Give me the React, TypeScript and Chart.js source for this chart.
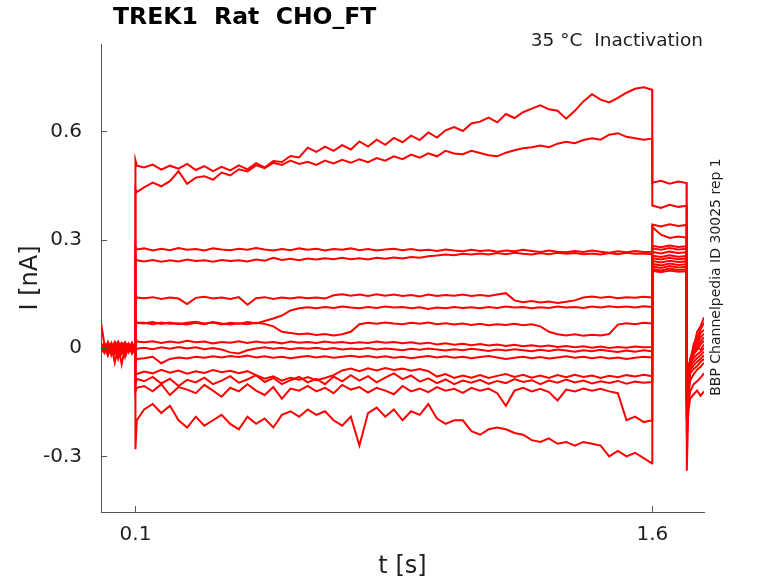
import { useEffect, useRef } from "react"
import { Chart, registerables } from "chart.js"

Chart.register(...registerables)

// sample times [s]: holding | step on | test pulse (3 rows) | end of pulse, tail, back to holding
const time = [
  0, 0.01, 0.02, 0.03, 0.04, 0.05, 0.06, 0.07, 0.08, 0.09, 0.0995,
  0.1, 0.104,
  0.125, 0.15, 0.175, 0.2, 0.225, 0.25, 0.275, 0.3, 0.325, 0.35, 0.375, 0.4, 0.425, 0.45, 0.475, 0.5, 0.525, 0.55, 0.575,
  0.6, 0.625, 0.65, 0.675, 0.7, 0.725, 0.75, 0.775, 0.8, 0.825, 0.85, 0.875, 0.9, 0.925, 0.95, 0.975, 1.0, 1.025, 1.05, 1.075,
  1.1, 1.125, 1.15, 1.175, 1.2, 1.225, 1.25, 1.275, 1.3, 1.325, 1.35, 1.375, 1.4, 1.425, 1.45, 1.475, 1.5, 1.525, 1.55, 1.575,
  1.5995, 1.6, 1.625, 1.65, 1.675, 1.6995, 1.7, 1.705, 1.71, 1.72, 1.73, 1.74, 1.75,
]

// current [nA], one array per sweep, same layout as time
const sweep1 = [
  0.01, -0.005, 0.015, 0.0, -0.01, 0.012, 0.004, -0.006, 0.01, 0.0, 0.008,
  0.52, 0.505,
  0.5, 0.508, 0.494, 0.505, 0.497, 0.51, 0.493, 0.504, 0.49, 0.502, 0.492, 0.506, 0.495, 0.512, 0.5, 0.518, 0.515, 0.532, 0.528,
  0.555, 0.543, 0.558, 0.546, 0.562, 0.55, 0.572, 0.558, 0.577, 0.563, 0.582, 0.57, 0.588, 0.576, 0.597, 0.583, 0.603, 0.612, 0.601, 0.622,
  0.627, 0.638, 0.625, 0.648, 0.637, 0.653, 0.663, 0.672, 0.661, 0.657, 0.635, 0.657, 0.683, 0.703, 0.688, 0.68, 0.693, 0.707, 0.718, 0.722,
  0.715, 0.458, 0.463, 0.455, 0.461, 0.457, -0.34, -0.15, -0.06, 0.0, 0.045, 0.06, 0.085,
]
const sweep2 = [
  -0.005, 0.012, -0.01, 0.006, 0.0, -0.015, 0.008, 0.002, -0.008, 0.01, -0.004,
  0.44, 0.432,
  0.445, 0.458, 0.448, 0.462, 0.49, 0.455, 0.472, 0.476, 0.466, 0.486, 0.478, 0.495, 0.489, 0.506, 0.498, 0.513, 0.507, 0.519, 0.51,
  0.516, 0.507, 0.519, 0.511, 0.521, 0.513, 0.523, 0.515, 0.526, 0.519, 0.531, 0.523, 0.536, 0.527, 0.539, 0.531, 0.546, 0.539, 0.537, 0.546,
  0.54, 0.534, 0.531, 0.541, 0.548, 0.553, 0.556, 0.561, 0.556, 0.566, 0.571, 0.567, 0.576, 0.581, 0.577, 0.591, 0.595, 0.585, 0.581, 0.577,
  0.58, 0.395, 0.388, 0.397, 0.391, 0.394, -0.2, -0.1, -0.05, 0.012, 0.028, 0.052, 0.07,
]
const sweep3 = [
  0.004, -0.012, 0.01, -0.004, 0.016, -0.002, -0.01, 0.006, -0.006, 0.012, 0.0,
  0.28, 0.273,
  0.276, 0.27, 0.275, 0.271, 0.277, 0.272, 0.274, 0.27, 0.276, 0.273, 0.271, 0.275, 0.272, 0.277, 0.273, 0.27, 0.274, 0.271, 0.276,
  0.272, 0.275, 0.27, 0.274, 0.272, 0.276, 0.271, 0.274, 0.27, 0.273, 0.275, 0.271, 0.274, 0.27, 0.272, 0.269, 0.273, 0.27, 0.268, 0.272,
  0.269, 0.271, 0.267, 0.27, 0.268, 0.272, 0.269, 0.266, 0.27, 0.267, 0.265, 0.269, 0.266, 0.27, 0.267, 0.264, 0.268, 0.265, 0.269, 0.266,
  0.267, 0.342, 0.337, 0.343, 0.338, 0.341, -0.16, -0.09, -0.045, -0.008, 0.018, 0.042, 0.05,
]
const sweep4 = [
  -0.01, 0.005, -0.018, 0.009, -0.003, 0.014, -0.008, 0.0, 0.011, -0.012, 0.004,
  0.25, 0.243,
  0.24, 0.244, 0.239, 0.243, 0.24, 0.245, 0.241, 0.243, 0.239, 0.244, 0.241, 0.243, 0.24, 0.245, 0.242, 0.25, 0.244, 0.247, 0.243,
  0.248, 0.245, 0.249, 0.246, 0.25, 0.246, 0.249, 0.245, 0.25, 0.247, 0.251, 0.248, 0.252, 0.25, 0.254, 0.256, 0.259, 0.257, 0.261, 0.259,
  0.262, 0.259, 0.263, 0.26, 0.264, 0.261, 0.259, 0.263, 0.26, 0.264, 0.261, 0.263, 0.26, 0.262, 0.259, 0.263, 0.26, 0.264, 0.261, 0.262,
  0.26, 0.335, 0.314, 0.305, 0.309, 0.306, -0.14, -0.08, -0.03, 0.004, 0.012, 0.03, 0.04,
]
const sweep5 = [
  0.008, -0.004, 0.002, -0.014, 0.006, 0.018, -0.006, 0.01, -0.002, 0.006, -0.01,
  0.15, 0.14,
  0.138, 0.141, 0.136, 0.14, 0.137, 0.122, 0.139, 0.142, 0.137, 0.14, 0.136, 0.141, 0.12, 0.138, 0.141, 0.136, 0.14, 0.137, 0.141,
  0.138, 0.14, 0.137, 0.146, 0.149, 0.145, 0.148, 0.144, 0.149, 0.145, 0.148, 0.144, 0.147, 0.143, 0.148, 0.144, 0.147, 0.145, 0.148, 0.144,
  0.147, 0.144, 0.148, 0.152, 0.132, 0.127, 0.13, 0.126, 0.129, 0.125, 0.128, 0.132, 0.14, 0.143, 0.139, 0.142, 0.138, 0.141, 0.139, 0.142,
  0.14, 0.283, 0.279, 0.284, 0.28, 0.282, -0.12, -0.07, -0.04, -0.018, 0.004, 0.018, 0.03,
]
const sweep6 = [
  0.07, 0.01, 0.0, 0.012, -0.016, 0.004, 0.014, -0.004, 0.006, -0.012, 0.002,
  0.08, 0.07,
  0.068, 0.072, 0.067, 0.071, 0.066, 0.07, 0.073, 0.068, 0.071, 0.065, 0.07, 0.067, 0.072, 0.068, 0.075, 0.082, 0.09, 0.104, 0.11,
  0.113, 0.11, 0.114, 0.111, 0.115, 0.112, 0.11, 0.114, 0.111, 0.115, 0.112, 0.114, 0.11, 0.113, 0.108, 0.112, 0.11, 0.114, 0.111, 0.113,
  0.11, 0.114, 0.111, 0.115, 0.112, 0.114, 0.11, 0.113, 0.111, 0.115, 0.112, 0.114, 0.111, 0.115, 0.112, 0.116, 0.113, 0.115, 0.112, 0.116,
  0.114, 0.276, 0.272, 0.277, 0.273, 0.275, -0.12, -0.06, -0.03, -0.015, -0.006, 0.01, 0.02,
]
const sweep7 = [
  0.012, -0.002, 0.008, -0.01, 0.002, -0.02, 0.006, 0.016, -0.008, 0.004, 0.01,
  0.065, 0.07,
  0.07, 0.066, 0.071, 0.067, 0.069, 0.065, 0.07, 0.066, 0.072, 0.068, 0.065, 0.069, 0.066, 0.07, 0.067, 0.06, 0.045, 0.042, 0.038,
  0.04, 0.036, 0.039, 0.035, 0.038, 0.045, 0.066, 0.07, 0.067, 0.071, 0.068, 0.066, 0.07, 0.067, 0.071, 0.066, 0.069, 0.065, 0.068, 0.064,
  0.067, 0.063, 0.066, 0.064, 0.067, 0.063, 0.066, 0.06, 0.045, 0.038, 0.035, 0.038, 0.034, 0.037, 0.035, 0.039, 0.065, 0.069, 0.066, 0.07,
  0.068, 0.266, 0.262, 0.267, 0.263, 0.265, -0.1, -0.05, -0.035, -0.01, 0.002, -0.004, 0.01,
]
const sweep8 = [
  -0.012, 0.006, -0.004, 0.014, -0.01, 0.0, -0.016, 0.008, 0.012, -0.006, 0.004,
  0.03, 0.018,
  0.016, 0.019, 0.014, 0.018, 0.015, 0.02, 0.016, 0.018, 0.013, 0.017, 0.015, 0.019, 0.014, 0.018, 0.015, 0.017, 0.013, 0.018, 0.015,
  0.017, 0.014, 0.018, 0.015, 0.017, 0.013, 0.016, 0.014, 0.018, 0.015, 0.017, 0.013, 0.016, 0.012, 0.015, 0.01, 0.013, 0.009, 0.012, 0.008,
  0.011, 0.007, 0.01, 0.006, 0.009, 0.005, 0.008, 0.004, 0.007, 0.003, 0.006, 0.002, 0.005, 0.001, 0.004, 0.0, 0.003, 0.001, 0.004, 0.002,
  0.003, 0.256, 0.252, 0.257, 0.253, 0.255, -0.1, -0.06, -0.04, -0.028, -0.018, -0.01, 0.0,
]
const sweep9 = [
  0.002, -0.014, 0.01, -0.006, 0.016, -0.004, 0.008, -0.012, 0.0, 0.014, -0.008,
  -0.01, -0.002,
  0.001, -0.003, 0.002, -0.002, 0.003, -0.001, 0.002, -0.003, 0.0, -0.004, -0.012, -0.015, -0.006, -0.001, 0.002, -0.002, 0.001, -0.003, 0.0,
  -0.002, 0.001, -0.003, 0.0, -0.004, -0.001, -0.003, 0.0, -0.004, -0.001, -0.003, -0.006, -0.002, -0.005, -0.001, -0.004, -0.007, -0.003, -0.006, -0.002,
  -0.005, -0.008, -0.004, -0.007, -0.003, -0.006, -0.009, -0.005, -0.008, -0.004, -0.007, -0.01, -0.006, -0.009, -0.005, -0.008, -0.011, -0.007, -0.01, -0.006,
  -0.009, 0.249, 0.245, 0.25, 0.246, 0.248, -0.12, -0.07, -0.05, -0.038, -0.028, -0.02, -0.01,
]
const sweep10 = [
  -0.006, 0.01, -0.02, 0.004, -0.01, 0.012, -0.002, -0.014, 0.006, -0.004, 0.008,
  -0.04, -0.03,
  -0.028, -0.024, -0.042, -0.03, -0.026, -0.029, -0.024, -0.027, -0.023, -0.026, -0.022, -0.025, -0.021, -0.026, -0.023, -0.027, -0.024, -0.028, -0.025,
  -0.022, -0.026, -0.023, -0.027, -0.024, -0.021, -0.025, -0.022, -0.026, -0.023, -0.027, -0.024, -0.028, -0.025, -0.022, -0.026, -0.023, -0.027, -0.024, -0.028,
  -0.025, -0.022, -0.026, -0.03, -0.027, -0.024, -0.028, -0.025, -0.029, -0.026, -0.023, -0.027, -0.024, -0.028, -0.025, -0.029, -0.026, -0.03, -0.027, -0.024,
  -0.026, 0.241, 0.237, 0.242, 0.238, 0.24, -0.13, -0.08, -0.06, -0.048, -0.038, -0.03, -0.02,
]
const sweep11 = [
  0.014, -0.008, 0.004, -0.012, 0.008, -0.03, 0.0, -0.006, 0.012, -0.016, -0.002,
  -0.07, -0.072,
  -0.065, -0.07, -0.06, -0.068, -0.062, -0.071, -0.064, -0.069, -0.061, -0.067, -0.063, -0.07, -0.064, -0.075, -0.085, -0.078, -0.09, -0.082, -0.088,
  -0.08, -0.089, -0.083, -0.075, -0.062, -0.057, -0.064, -0.056, -0.062, -0.055, -0.061, -0.057, -0.063, -0.058, -0.064, -0.079, -0.072, -0.083, -0.076, -0.082,
  -0.075, -0.083, -0.077, -0.072, -0.08, -0.074, -0.082, -0.076, -0.083, -0.075, -0.081, -0.074, -0.08, -0.076, -0.083, -0.077, -0.081, -0.075, -0.079, -0.074,
  -0.078, 0.233, 0.229, 0.234, 0.23, 0.232, -0.15, -0.1, -0.07, -0.058, -0.05, -0.038, -0.03,
]
const sweep12 = [
  -0.01, 0.006, -0.018, 0.01, -0.04, 0.002, -0.008, 0.014, -0.004, 0.008, -0.014,
  -0.1, -0.085,
  -0.092, -0.08, -0.098, -0.085, -0.105, -0.088, -0.095, -0.082, -0.1, -0.09, -0.078, -0.096, -0.087, -0.075, -0.094, -0.083, -0.1, -0.089, -0.08,
  -0.095, -0.085, -0.1, -0.079, -0.092, -0.075, -0.09, -0.078, -0.095, -0.082, -0.07, -0.086, -0.076, -0.093, -0.084, -0.097, -0.087, -0.1, -0.09, -0.096,
  -0.088, -0.099, -0.091, -0.097, -0.086, -0.094, -0.089, -0.1, -0.09, -0.096, -0.087, -0.095, -0.09, -0.098, -0.092, -0.097, -0.091, -0.099, -0.093, -0.096,
  -0.094, 0.226, 0.222, 0.227, 0.223, 0.225, -0.18, -0.12, -0.09, -0.072, -0.06, -0.052, -0.04,
]
const sweep13 = [
  0.006, -0.01, 0.016, -0.02, 0.0, -0.006, 0.01, -0.025, 0.004, -0.008, 0.006,
  -0.12, -0.11,
  -0.105, -0.12, -0.1, -0.13, -0.108, -0.115, -0.125, -0.102, -0.118, -0.135, -0.11, -0.12, -0.1, -0.118, -0.13, -0.108, -0.14, -0.112, -0.118,
  -0.105, -0.12, -0.11, -0.125, -0.102, -0.115, -0.108, -0.123, -0.11, -0.118, -0.128, -0.105, -0.12, -0.112, -0.122, -0.108, -0.118, -0.113, -0.124, -0.11,
  -0.118, -0.112, -0.125, -0.16, -0.118, -0.11, -0.12, -0.113, -0.122, -0.145, -0.115, -0.12, -0.112, -0.118, -0.113, -0.12, -0.125, -0.2, -0.19, -0.205,
  -0.2, 0.219, 0.215, 0.22, 0.216, 0.218, -0.2, -0.15, -0.12, -0.1, -0.092, -0.082, -0.07,
]
const sweep14 = [
  -0.004, 0.012, -0.016, 0.006, -0.01, 0.01, -0.045, 0.004, -0.012, 0.014, -0.006,
  -0.28, -0.2,
  -0.17, -0.155, -0.18, -0.16, -0.2, -0.22, -0.19, -0.215, -0.2, -0.185, -0.21, -0.225, -0.19, -0.21, -0.195, -0.22, -0.185, -0.175, -0.19,
  -0.17, -0.185, -0.175, -0.2, -0.215, -0.19, -0.27, -0.18, -0.165, -0.19, -0.17, -0.2, -0.175, -0.185, -0.155, -0.195, -0.21, -0.2, -0.2, -0.23,
  -0.24, -0.225, -0.22, -0.225, -0.235, -0.24, -0.255, -0.26, -0.25, -0.265, -0.26, -0.27, -0.26, -0.265, -0.27, -0.3, -0.285, -0.3, -0.29, -0.305,
  -0.32, 0.214, 0.21, 0.215, 0.211, 0.213, -0.24, -0.17, -0.14, -0.128, -0.118, -0.132, -0.12,
]

const sweeps = [
  sweep1, sweep2, sweep3, sweep4, sweep5, sweep6, sweep7,
  sweep8, sweep9, sweep10, sweep11, sweep12, sweep13, sweep14,
]

const xTicks = [0.1, 1.6]
const xTickLabels = ["0.1", "1.6"]
const yTicks = [-0.3, 0, 0.3, 0.6]
const yTickLabels = ["-0.3", "0", "0.3", "0.6"]

const FONT = "'DejaVu Sans', 'Liberation Sans', sans-serif"
const INK = "#1f1f1f"
const AXIS = "#555555"

// ticks point into the plot, plus all the text round it
const decorations = {
  id: "decorations",
  afterDraw(chart: any) {
    const { ctx, chartArea: a, scales } = chart
    const xs = scales.x
    const ys = scales.y
    ctx.save()

    ctx.strokeStyle = AXIS
    ctx.lineWidth = 1
    ctx.beginPath()
    yTicks.forEach((v) => {
      const py = Math.round(ys.getPixelForValue(v)) + 0.5
      ctx.moveTo(a.left, py)
      ctx.lineTo(a.left + 6, py)
    })
    xTicks.forEach((v) => {
      const px = Math.round(xs.getPixelForValue(v)) + 0.5
      ctx.moveTo(px, a.bottom)
      ctx.lineTo(px, a.bottom - 6)
    })
    ctx.stroke()

    ctx.fillStyle = INK
    ctx.font = `20px ${FONT}`
    ctx.textBaseline = "middle"
    ctx.textAlign = "right"
    yTicks.forEach((v, i) => ctx.fillText(yTickLabels[i], a.left - 19, ys.getPixelForValue(v)))
    ctx.textAlign = "center"
    xTicks.forEach((v, i) => ctx.fillText(xTickLabels[i], xs.getPixelForValue(v), a.bottom + 23))

    ctx.font = `24px ${FONT}`
    ctx.fillText("t [s]", (a.left + a.right) / 2, 567)
    ctx.save()
    ctx.translate(31, (a.top + a.bottom) / 2)
    ctx.rotate(-Math.PI / 2)
    ctx.fillText("I [nA]", 0, 0)
    ctx.restore()

    ctx.fillStyle = "#000000"
    ctx.font = `bold 23.5px ${FONT}`
    ctx.textAlign = "left"
    ctx.fillText("TREK1  Rat  CHO_FT", 113, 18)

    ctx.fillStyle = INK
    ctx.font = `18.5px ${FONT}`
    ctx.textAlign = "right"
    ctx.fillText("35 °C  Inactivation", 703, 41)

    ctx.font = `14px ${FONT}`
    ctx.textAlign = "center"
    ctx.save()
    ctx.translate(716, 277)
    ctx.rotate(-Math.PI / 2)
    ctx.fillText("BBP Channelpedia ID 30025 rep 1", 0, 0)
    ctx.restore()

    ctx.restore()
  },
}

function CurrentTraces() {
  const chartRef = useRef<HTMLCanvasElement>(null)
  const chartInstance = useRef<Chart | null>(null)

  useEffect(() => {
    if (!chartRef.current) return
    if (chartInstance.current) chartInstance.current.destroy()

    const ctx = chartRef.current.getContext("2d")
    if (!ctx) return

    chartInstance.current = new Chart(ctx, {
      type: "line",
      data: {
        datasets: sweeps.map((values, s) => ({
          label: `sweep ${s + 1}`,
          data: values.map((y, i) => ({ x: time[i], y })),
          borderColor: "#ff0000",
          borderWidth: 2,
          pointRadius: 0,
          tension: 0,
          fill: false,
        })),
      },
      options: {
        responsive: true,
        maintainAspectRatio: false,
        animation: false,
        layout: { padding: { left: 101, top: 44, right: 74, bottom: 71 } },
        scales: {
          x: {
            type: "linear",
            min: 0,
            max: 1.75,
            ticks: { display: false },
            grid: { display: false, drawTicks: false },
            border: { display: true, color: AXIS, width: 1 },
          },
          y: {
            type: "linear",
            min: -0.454,
            max: 0.842,
            ticks: { display: false },
            grid: { display: false, drawTicks: false },
            border: { display: true, color: AXIS, width: 1 },
          },
        },
        plugins: {
          legend: { display: false },
          tooltip: { enabled: false },
        },
      },
      plugins: [decorations],
    })

    return () => {
      if (chartInstance.current) {
        chartInstance.current.destroy()
        chartInstance.current = null
      }
    }
  }, [])

  return <canvas ref={chartRef} />
}

export default function App() {
  return (
    <div style={{ position: "absolute", left: 0, top: 0, width: 778, height: 583, background: "#ffffff" }}>
      <CurrentTraces />
    </div>
  )
}
